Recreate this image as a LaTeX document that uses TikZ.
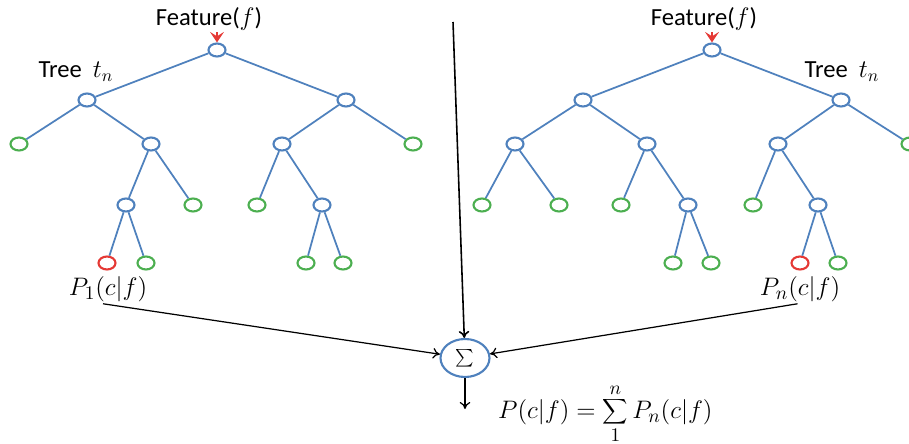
\documentclass[tikz,border=0pt]{standalone}
\usepackage{fontspec}
\setmainfont{Carlito}
\usetikzlibrary{shapes.geometric,arrows.meta}
\definecolor{nodeblue}{RGB}{79,129,189}
\definecolor{leafgreen}{RGB}{76,175,80}
\definecolor{hitred}{RGB}{229,57,53}

\tikzset{
  inner/.style={ellipse,draw=nodeblue,line width=1.2pt,fill=white,minimum width=0.34cm,minimum height=0.26cm,inner sep=0pt},
  leaf/.style={inner,draw=leafgreen},
  hit/.style={inner,draw=hitred},
  branch/.style={nodeblue,line width=1pt},
  flow/.style={black,line width=0.7pt,-{To[length=4pt,width=6pt]}},
  lbl/.style={font=\fontsize{14}{16}\selectfont,inner sep=1pt},
  mlbl/.style={font=\fontsize{15.5}{18}\selectfont,inner sep=1pt}
}

\begin{document}
\begin{tikzpicture}[x=0.02cm,y=-0.02cm]
  \useasboundingbox (0,0) rectangle (909,443);

  % left tree
  \node[inner] (lr)    at (217,50)  {};
  \node[inner] (lL)    at (87,100)  {};
  \node[inner] (lR)    at (346,100) {};
  \node[leaf]  (lLL)   at (19,144)  {};
  \node[inner] (lLR)   at (151,144) {};
  \node[inner] (lRL)   at (282,144) {};
  \node[leaf]  (lRR)   at (413,144) {};
  \node[inner] (lLRL)  at (126,205) {};
  \node[leaf]  (lLRR)  at (193,205) {};
  \node[leaf]  (lRLL)  at (257,205) {};
  \node[inner] (lRLR)  at (322,205) {};
  \node[hit]   (lLRLL) at (107,263) {};
  \node[leaf]  (lLRLR) at (146,263) {};
  \node[leaf]  (lRLRL) at (306,263) {};
  \node[leaf]  (lRLRR) at (343,263) {};
  \foreach \u/\v in {lr/lL,lr/lR,lL/lLL,lL/lLR,lR/lRL,lR/lRR,lLR/lLRL,lLR/lLRR,
                     lRL/lRLL,lRL/lRLR,lLRL/lLRLL,lLRL/lLRLR,lRLR/lRLRL,lRLR/lRLRR}
    \draw[branch] (\u) -- (\v);

  % right tree
  \node[inner] (rr)    at (712,50)  {};
  \node[inner] (rL)    at (583,100) {};
  \node[inner] (rR)    at (841,100) {};
  \node[inner] (rLL)   at (515,144) {};
  \node[inner] (rLR)   at (647,144) {};
  \node[inner] (rRL)   at (778,144) {};
  \node[leaf]  (rRR)   at (910,144) {};
  \node[leaf]  (rLLL)  at (482,205) {};
  \node[leaf]  (rLLR)  at (559,205) {};
  \node[leaf]  (rLRL)  at (621,205) {};
  \node[inner] (rLRR)  at (688,205) {};
  \node[leaf]  (rRLL)  at (753,205) {};
  \node[inner] (rRLR)  at (818,205) {};
  \node[leaf]  (rLRRL) at (673,263) {};
  \node[leaf]  (rLRRR) at (711,263) {};
  \node[hit]   (rRLRL) at (800,263) {};
  \node[leaf]  (rRLRR) at (838,263) {};
  \foreach \u/\v in {rr/rL,rr/rR,rL/rLL,rL/rLR,rR/rRL,rR/rRR,rLL/rLLL,rLL/rLLR,
                     rLR/rLRL,rLR/rLRR,rRL/rRLL,rRL/rRLR,rLRR/rLRRL,rLRR/rLRRR,rRLR/rRLRL,rRLR/rRLRR}
    \draw[branch] (\u) -- (\v);

  % labels
  \node[lbl] (featl) at (209,19) {Feature($f$)};
  \node[lbl] (featr) at (704,19) {Feature($f$)};
  \node[lbl] (treel) at (76,72)  {Tree\ \ $t_n$};
  \node[lbl] (treer) at (842,72) {Tree\ \ $t_n$};
  \node[mlbl] (pone) at (108,289) {$P_1(c|f)$};
  \node[mlbl] (pn)   at (800,289) {$P_n(c|f)$};
  \coordinate (inl) at (217,32);
  \coordinate (inr) at (712,32);
  \draw[hitred,line width=1.3pt,-{Stealth[length=6pt,width=8pt,inset=2.5pt]}] (inl) -- (lr);
  \draw[hitred,line width=1.3pt,-{Stealth[length=6pt,width=8pt,inset=2.5pt]}] (inr) -- (rr);

  % combination
  \node[ellipse,draw=nodeblue,line width=1.2pt,minimum width=0.98cm,minimum height=0.76cm,inner sep=0pt]
    (sum) at (465,358) {\fontsize{17}{19}\selectfont$\sum$};
  \coordinate (top) at (453,22);
  \coordinate (out) at (465,409);
  \draw[flow,line width=0.9pt] (top) -- (sum);
  \draw[flow] ([xshift=-0.1cm]pone.south) -- (sum);
  \draw[flow] ([xshift=-0.05cm]pn.south) -- (sum);
  \draw[flow] (sum) -- (out);
  \node[mlbl,anchor=west] (total) at (496,414) {$\displaystyle P(c|f)=\sum_1^n P_n(c|f)$};
\end{tikzpicture}
\end{document}
